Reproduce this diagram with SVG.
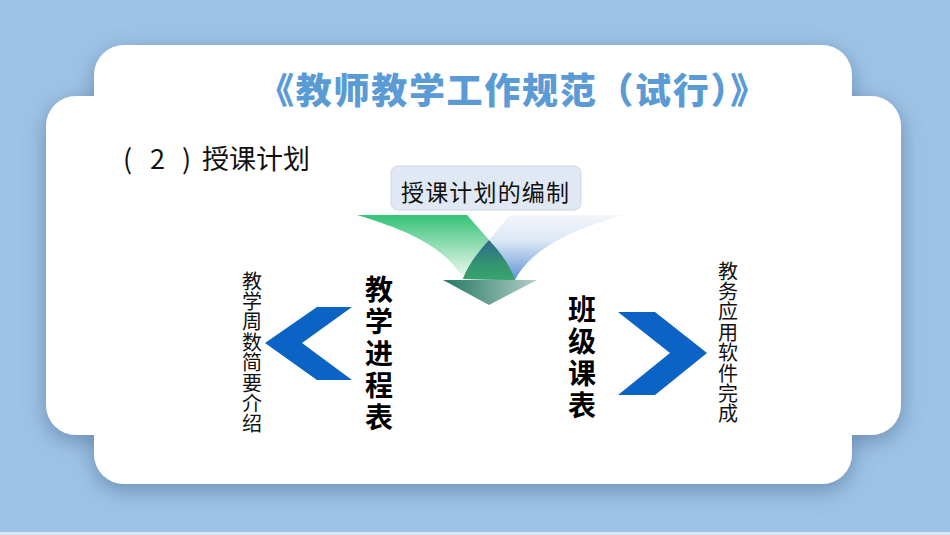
<svg xmlns="http://www.w3.org/2000/svg" width="950" height="535" viewBox="0 0 950 535">
<defs>
<filter id="shadow" x="-10%" y="-15%" width="120%" height="135%">
<feDropShadow dx="0" dy="6" stdDeviation="11" flood-color="#46698f" flood-opacity="0.6"/>
</filter>
<linearGradient id="gGreen" x1="0" y1="215" x2="0" y2="280" gradientUnits="userSpaceOnUse">
<stop offset="0" stop-color="#34c277"/>
<stop offset="0.45" stop-color="#8fdcb0"/>
<stop offset="1" stop-color="#f4fcf7"/>
</linearGradient>
<linearGradient id="gBlue" x1="0" y1="215" x2="0" y2="280" gradientUnits="userSpaceOnUse">
<stop offset="0" stop-color="#f3f6fb"/>
<stop offset="0.4" stop-color="#dce7f5"/>
<stop offset="1" stop-color="#5e93d6"/>
</linearGradient>
<linearGradient id="gOver" x1="0" y1="240" x2="0" y2="280" gradientUnits="userSpaceOnUse">
<stop offset="0" stop-color="#2e6a8e"/>
<stop offset="0.6" stop-color="#33946f"/>
<stop offset="1" stop-color="#38a46c"/>
</linearGradient>
<linearGradient id="gDown" x1="443" y1="0" x2="537" y2="0" gradientUnits="userSpaceOnUse">
<stop offset="0" stop-color="#267765"/>
<stop offset="0.5" stop-color="#6aa393"/>
<stop offset="1" stop-color="#b3cfca"/>
</linearGradient>
<style>
.title{font-family:"Noto Sans CJK SC","Noto Sans",sans-serif;font-weight:900;font-size:36px;letter-spacing:1.7px;fill:#5b9bd5;}
.sub{font-family:"Noto Sans CJK SC","Noto Sans",sans-serif;font-size:27px;fill:#111;}
.box{font-family:"Noto Sans CJK SC",sans-serif;font-size:23px;fill:#111;}
.small{font-family:"Noto Sans CJK SC",sans-serif;font-size:20px;letter-spacing:0.4px;fill:#111;writing-mode:vertical-rl;}
.big{font-family:"Noto Sans CJK SC",sans-serif;font-size:28px;font-weight:700;letter-spacing:4px;fill:#000;writing-mode:vertical-rl;}
.chev{fill:#0b63c5;}
</style>
</defs>
<rect width="950" height="535" fill="#9dc3e6"/>
<rect y="532" width="950" height="3" fill="#dbe9f6"/>
<g id="card" filter="url(#shadow)" fill="#ffffff">
<rect x="94" y="45" width="758" height="439" rx="30" ry="30"/>
<rect x="46" y="96" width="855" height="339" rx="30" ry="30"/>
</g>
<g id="title">
<text class="title" x="513" y="104" text-anchor="middle">《教师教学工作规范（试行）》</text>
</g>
<g id="subtitle">
<text class="sub" y="169"><tspan x="123">(</tspan><tspan x="150">2</tspan><tspan x="182">)</tspan><tspan x="202">授课计划</tspan></text>
</g>
<g id="node-source">
<rect x="391" y="166" width="190" height="44" rx="7" ry="7" fill="#dfe8f3" stroke="#cbd6e4" stroke-width="1"/>
<text class="box" x="401" y="201" textLength="168">授课计划的编制</text>
</g>
<g id="connectors">
<path id="funnel-green" d="M357,215 L467,215 L489,240 C500,252 510,265 515,280 L463,279 C445,245 400,228 357,215 Z" fill="url(#gGreen)"/>
<path id="funnel-blue" d="M510,215 L623,215 C580,228 533,245 515,280 L463,279 C468,265 478,252 489,240 Z" fill="url(#gBlue)"/>
<path id="funnel-overlap" d="M489,240 C500,252 510,265 515,280 L463,279 C468,265 478,252 489,240 Z" fill="url(#gOver)"/>
<polygon id="down-arrow" points="443,280 537,280 489,305" fill="url(#gDown)"/>
<polygon id="chevron-left" class="chev" points="317,307 352,307 302,343 352,380 317,380 265,343"/>
<polygon id="chevron-right" class="chev" points="618,312 655,312 707,353 655,395 618,395 670,353"/>
</g>
<g id="node-jxjcb">
<text class="big" x="379" y="275">教学进程表</text>
</g>
<g id="node-jxzs">
<text class="small" x="252" y="271">教学周数简要介绍</text>
</g>
<g id="node-bjkb">
<text class="big" x="582" y="295">班级课表</text>
</g>
<g id="node-jwrj">
<text class="small" x="728" y="261">教务应用软件完成</text>
</g>
</svg>
